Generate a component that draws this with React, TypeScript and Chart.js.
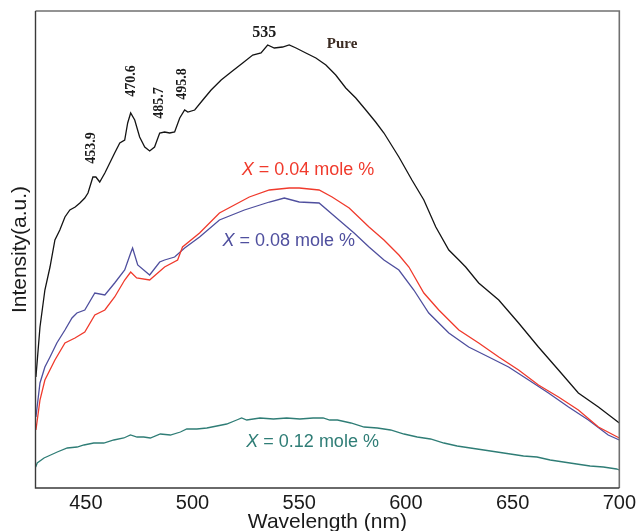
import React, { useEffect, useRef } from "react";
import { Chart, registerables } from "chart.js";

Chart.register(...registerables);

// ---- data (wavelength nm, intensity a.u.) ----
const pureWl = [426.6, 428.5, 430.8, 433.2, 435.5, 437.8, 440.2, 442.5, 445.0, 447.2, 449.5, 451.0, 453.3, 454.7, 456.5, 458.9, 461.2, 463.5, 465.9, 468.2, 469.6, 471.0, 472.9, 475.2, 477.6, 479.9, 482.2, 484.6, 486.9, 489.3, 491.6, 494.0, 496.3, 497.8, 501.0, 504.8, 508.7, 513.4, 518.1, 523.5, 528.2, 532.1, 535.2, 538.3, 542.2, 545.3, 548.5, 553.1, 557.8, 562.5, 567.1, 571.8, 576.5, 581.2, 585.8, 589.7, 596.7, 602.8, 608.4, 614.0, 620.1, 624.8, 628.0, 634.1, 643.5, 652.8, 662.1, 671.5, 680.8, 690.2, 700.0];
const pureI = [111, 161, 198, 221, 248, 258, 271, 278, 281, 285, 290, 295, 311, 311, 306, 315, 325, 335, 345, 348, 365, 375, 368, 351, 341, 337, 341, 355, 356, 355, 356, 370, 378, 376, 378, 388, 398, 408, 416, 425, 433, 435, 443, 440, 441, 443, 440, 435, 430, 423, 413, 400, 390, 378, 366, 355, 331, 308, 288, 261, 238, 228, 221, 205, 188, 165, 141, 118, 95, 81, 65];

const x004Wl = [426.6, 428.5, 430.8, 435.5, 440.2, 444.9, 449.5, 454.2, 458.9, 463.5, 468.2, 471.0, 473.8, 479.9, 486.9, 493.0, 495.3, 503.3, 512.6, 526.6, 536.0, 545.3, 550.0, 559.3, 565.4, 573.4, 582.7, 589.7, 596.7, 601.4, 608.4, 615.4, 624.8, 634.1, 643.5, 652.8, 662.1, 671.5, 680.8, 690.2, 700.0];
const x004I = [58, 88, 108, 128, 145, 150, 156, 173, 178, 191, 208, 216, 210, 208, 221, 228, 241, 255, 275, 291, 298, 300, 300, 298, 291, 280, 261, 248, 233, 221, 195, 178, 158, 145, 131, 118, 103, 91, 78, 61, 50];

const x008Wl = [426.6, 428.5, 430.8, 433.2, 436.4, 440.2, 443.5, 445.8, 449.5, 454.2, 458.9, 463.5, 468.2, 471.0, 471.9, 474.3, 479.9, 484.6, 486.9, 491.6, 496.3, 503.3, 512.6, 524.3, 536.0, 543.0, 550.0, 559.3, 568.6, 575.7, 582.7, 589.7, 596.7, 603.7, 610.7, 620.1, 629.4, 638.8, 648.1, 657.5, 666.8, 676.2, 685.5, 694.8, 700.0];
const x008I = [71, 105, 121, 131, 145, 158, 170, 175, 178, 195, 193, 205, 218, 235, 240, 223, 213, 226, 228, 231, 240, 251, 268, 278, 286, 290, 286, 285, 268, 255, 241, 228, 218, 198, 175, 155, 141, 131, 121, 108, 95, 81, 68, 53, 48];

const x012Wl = [426.5, 427.2, 430.4, 433.5, 436.6, 441.3, 445.9, 449.1, 453.7, 458.4, 463.1, 467.8, 470.9, 474.0, 477.1, 480.2, 484.9, 489.6, 494.3, 497.3, 502.0, 506.7, 511.4, 516.0, 520.7, 523.0, 525.4, 531.6, 537.9, 544.1, 550.3, 556.5, 561.2, 564.3, 567.9, 574.2, 580.4, 586.6, 592.8, 599.1, 605.3, 611.5, 617.8, 624.0, 630.2, 636.5, 642.7, 648.9, 655.1, 661.4, 667.6, 673.8, 680.0, 686.3, 692.5, 698.7, 700.0];
const x012I = [21, 25, 30, 33, 36, 40, 41, 43, 45, 45, 48, 50, 53, 51, 51, 50, 54, 53, 56, 59, 59, 60, 62, 64, 68, 70, 68, 70, 69, 70, 69, 70, 70, 68, 68, 65, 61, 60, 58, 54, 51, 49, 45, 42, 40, 38, 36, 34, 32, 31, 28, 26, 24, 22, 21, 19, 18];

const xTicks = [450, 500, 550, 600, 650, 700];

// annotation labels: text, anchor wavelength, anchor intensity
const peakLabels = ["453.9", "470.6", "485.7", "495.8"];
const peakLabelWl = [452.8, 471.5, 484.6, 495.3];
const peakLabelI = [340, 407, 385, 404];

const seriesNames = ["Pure", "X = 0.04 mole %", "X = 0.08 mole %", "X = 0.12 mole %"];
const seriesColors = ["#141414", "#f03a2c", "#4f4f9e", "#2f7d76"];

const toPts = (xs: number[], ys: number[]) => xs.map((x, i) => ({ x, y: ys[i] }));

const annotationPlugin = {
  id: "annots",
  afterDatasetsDraw(chart: any) {
    const { ctx, scales, chartArea } = chart;
    const xs = scales.x;
    const ys = scales.y;
    ctx.save();
    // frame
    ctx.strokeStyle = "#707070";
    ctx.lineWidth = 1.6;
    ctx.beginPath();
    ctx.moveTo(chartArea.left, chartArea.top);
    ctx.lineTo(chartArea.right, chartArea.top);
    ctx.lineTo(chartArea.right, chartArea.bottom);
    ctx.stroke();
    ctx.strokeStyle = "#3a3a3a";
    ctx.lineWidth = 1.4;
    ctx.beginPath();
    ctx.moveTo(chartArea.left, chartArea.top);
    ctx.lineTo(chartArea.left, chartArea.bottom);
    ctx.lineTo(chartArea.right, chartArea.bottom);
    ctx.stroke();

    // rotated peak labels
    ctx.fillStyle = "#1a1a1a";
    ctx.font = "bold 14px 'Liberation Serif', 'DejaVu Serif', serif";
    ctx.textAlign = "center";
    ctx.textBaseline = "middle";
    peakLabels.forEach((t, i) => {
      const px = xs.getPixelForValue(peakLabelWl[i]);
      const py = ys.getPixelForValue(peakLabelI[i]);
      ctx.save();
      ctx.translate(px, py);
      ctx.rotate(-Math.PI / 2);
      ctx.fillText(t, 0, 0);
      ctx.restore();
    });
    // 535 label
    ctx.font = "bold 16px 'Liberation Serif', serif";
    ctx.fillText("535", xs.getPixelForValue(533.6), ys.getPixelForValue(455));
    // Pure label
    ctx.fillStyle = "#3b2b22";
    ctx.font = "bold 15px 'Liberation Serif', serif";
    ctx.fillText(seriesNames[0], xs.getPixelForValue(570.1), ys.getPixelForValue(444));

    // concentration labels with italic X
    const conc = [
      { name: seriesNames[1], color: seriesColors[1], wl: 523.0, i: 318 },
      { name: seriesNames[2], color: seriesColors[2], wl: 514.0, i: 247 },
      { name: seriesNames[3], color: seriesColors[3], wl: 525.2, i: 46 },
    ];
    ctx.textAlign = "left";
    conc.forEach((c) => {
      let px = xs.getPixelForValue(c.wl);
      const py = ys.getPixelForValue(c.i);
      ctx.fillStyle = c.color;
      ctx.font = "italic 18px 'Liberation Sans', Arial, sans-serif";
      ctx.fillText("X", px, py);
      px += ctx.measureText("X").width;
      ctx.font = "18px 'Liberation Sans', Arial, sans-serif";
      ctx.fillText(c.name.slice(1), px, py);
    });
    ctx.restore();
  },
};

export default function App() {
  const ref = useRef<HTMLCanvasElement>(null);
  useEffect(() => {
    document.body.style.margin = "0";
    const mk = (label: string, pts: any, color: string) => ({
      label,
      data: pts,
      borderColor: color,
      backgroundColor: color,
      borderWidth: 1.3,
      pointRadius: 0,
      tension: 0,
      fill: false,
    });
    const chart = new Chart(ref.current!, {
      type: "line",
      data: {
        datasets: [
          mk(seriesNames[0], toPts(pureWl, pureI), seriesColors[0]),
          mk(seriesNames[1], toPts(x004Wl, x004I), seriesColors[1]),
          mk(seriesNames[2], toPts(x008Wl, x008I), seriesColors[2]),
          mk(seriesNames[3], toPts(x012Wl, x012I), seriesColors[3]),
        ],
      },
      options: {
        animation: false,
        responsive: false,
        maintainAspectRatio: false,
        layout: { padding: { top: 11, right: 18, left: 0, bottom: 0 } },
        plugins: { legend: { display: false }, tooltip: { enabled: false } },
        scales: {
          x: {
            type: "linear",
            min: 426.4,
            max: 700,
            grid: { display: false, drawTicks: false, tickLength: 0 },
            border: { display: false },
            afterBuildTicks: (s: any) => {
              s.ticks = xTicks.map((v) => ({ value: v }));
            },
            afterFit: (s: any) => {
              s.height = 43;
            },
            ticks: {
              padding: 3,
              color: "#1a1a1a",
              font: { family: "'Liberation Sans', Arial, sans-serif", size: 20 },
              maxRotation: 0,
              autoSkip: false,
            },
            title: {
              display: true,
              text: "Wavelength (nm)",
              color: "#1a1a1a",
              font: { family: "'Liberation Sans', Arial, sans-serif", size: 21 },
              padding: { top: 0, bottom: -4 },
            },
          },
          y: {
            type: "linear",
            min: 0,
            max: 477,
            grid: { display: false, drawTicks: false, tickLength: 0 },
            border: { display: false },
            ticks: { display: false },
            afterFit: (s: any) => {
              s.width = 35.5;
            },
            title: {
              display: true,
              text: "Intensity(a.u.)",
              color: "#1a1a1a",
              font: { family: "'Liberation Sans', Arial, sans-serif", size: 21 },
              padding: { top: 8, bottom: 0 },
            },
          },
        },
      },
      plugins: [annotationPlugin],
    });
    return () => chart.destroy();
  }, []);
  return (
    <div style={{ width: 639, height: 531, background: "#fff" }}>
      <canvas ref={ref} width={639} height={531} style={{ display: "block" }} />
    </div>
  );
}
